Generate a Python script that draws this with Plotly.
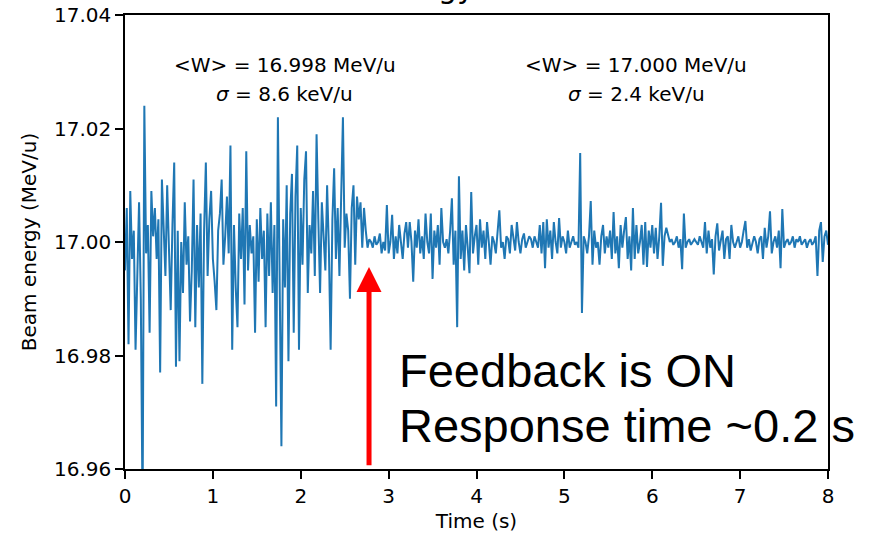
import plotly.graph_objects as go

# beam energy samples (MeV/u), one every 0.02 s from 0 to 8 s
beam_energy = [
    16.995, 17.006, 16.982, 17.009, 16.997, 17.002, 16.981, 16.996, 17.007, 16.990,
    16.952, 17.024, 16.998, 17.003, 16.984, 17.009, 17.001, 17.006, 16.997, 17.004,
    16.977, 17.011, 17.001, 16.994, 17.010, 16.998, 16.988, 17.003, 17.014, 16.978,
    17.002, 16.979, 17.000, 16.991, 17.007, 16.996, 17.001, 16.986, 16.995, 17.011,
    16.985, 17.003, 16.992, 17.005, 16.975, 17.002, 17.014, 16.994, 17.004, 17.009,
    16.997, 16.993, 16.988, 17.002, 17.005, 17.011, 16.996, 17.001, 17.008, 16.998,
    17.017, 16.981, 17.003, 16.992, 16.985, 17.005, 16.997, 17.006, 16.989, 17.016,
    16.995, 17.003, 16.998, 17.001, 16.984, 17.004, 16.993, 17.006, 16.997, 17.002,
    16.985, 17.005, 16.994, 17.007, 16.991, 17.003, 16.971, 17.022, 16.988, 16.964,
    17.004, 16.992, 17.010, 16.979, 17.005, 17.012, 16.984, 17.008, 17.017, 16.981,
    17.006, 16.996, 17.011, 17.016, 16.991, 17.003, 16.998, 17.009, 16.994, 17.019,
    17.004, 16.991, 17.007, 17.002, 16.995, 17.010, 16.999, 16.981, 17.004, 17.013,
    16.997, 17.006, 16.994, 17.008, 17.022, 16.999, 17.005, 17.002, 16.990, 17.006,
    17.010, 16.996, 17.008, 17.004, 17.007, 16.999, 17.006, 17.002, 16.9990, 17.0005,
    17.0000, 16.9990, 17.0010, 16.9995, 17.0000, 17.0015, 16.9980, 17.0000, 16.9985, 17.0065,
    16.9980, 17.0000, 17.0048, 16.9970, 17.0010, 16.9980, 17.0030, 17.0000, 16.9970, 17.0015,
    17.0035, 16.9990, 17.0035, 17.0000, 16.9930, 17.0020, 16.9990, 17.0040, 16.9980, 17.0010,
    16.9970, 17.0050, 17.0000, 16.9980, 17.0050, 16.9935, 17.0020, 16.9990, 17.0030, 16.9960,
    17.0060, 17.0000, 16.9990, 17.0005, 16.9980, 17.0020, 17.0077, 16.9960, 17.0020, 16.9850,
    17.0116, 16.9970, 17.0020, 16.9950, 17.0030, 16.9990, 16.9945, 17.0088, 16.9980, 17.0010,
    17.0030, 16.9960, 17.0040, 16.9990, 17.0020, 16.9970, 17.0035, 17.0000, 16.9960, 17.0010,
    17.0000, 16.9980, 17.0020, 17.0056, 16.9990, 17.0000, 16.9970, 17.0010, 17.0005, 16.9980,
    17.0030, 17.0010, 16.9985, 17.0035, 17.0000, 16.9980, 17.0005, 17.0015, 16.9990, 17.0000,
    17.0010, 17.0005, 16.9990, 17.0010, 17.0000, 16.9990, 17.0030, 16.9980, 17.0035, 16.9954,
    17.0040, 16.9990, 17.0020, 16.9970, 17.0035, 17.0000, 16.9980, 17.0042, 16.9990, 17.0010,
    17.0000, 16.9980, 17.0020, 16.9990, 17.0000, 17.0010, 16.9995, 17.0000, 16.9990, 17.0157,
    16.9875, 17.0010, 17.0000, 16.9980, 17.0010, 17.0072, 16.9960, 17.0020, 16.9990, 17.0000,
    16.9960, 17.0010, 17.0030, 16.9980, 17.0010, 16.9990, 17.0020, 16.9970, 17.0053, 16.9980,
    17.0010, 16.9954, 17.0030, 16.9990, 17.0020, 17.0044, 16.9970, 17.0010, 16.9950, 17.0060,
    16.9970, 17.0030, 16.9980, 17.0000, 17.0030, 16.9960, 17.0035, 16.9956, 17.0020, 16.9990,
    17.0030, 16.9980, 17.0025, 16.9970, 17.0010, 17.0069, 16.9958, 17.0010, 17.0025, 17.0010,
    17.0000, 17.0005, 16.9995, 17.0000, 17.0010, 16.9990, 17.0005, 16.9952, 17.0050, 16.9990,
    17.0000, 17.0005, 16.9995, 17.0000, 17.0005, 17.0000, 16.9995, 17.0010, 17.0000, 16.9990,
    17.0035, 16.9980, 17.0020, 16.9990, 17.0005, 16.9943, 17.0010, 17.0033, 16.9985, 17.0000,
    17.0020, 16.9970, 17.0005, 17.0010, 16.9970, 17.0030, 17.0000, 16.9990, 17.0000, 17.0010,
    16.9990, 17.0000, 17.0020, 17.0037, 16.9990, 17.0005, 16.9985, 17.0000, 17.0010, 17.0000,
    16.9980, 17.0005, 17.0010, 16.9970, 17.0025, 16.9990, 17.0010, 17.0054, 16.9980, 17.0000,
    17.0010, 16.9990, 17.0020, 16.9954, 17.0058, 16.9990, 17.0000, 17.0005, 16.9995, 17.0000,
    17.0010, 16.9990, 17.0005, 17.0000, 17.0010, 16.9995, 17.0000, 17.0005, 16.9990, 17.0000,
    17.0005, 16.9995, 17.0000, 17.0010, 16.9940, 17.0020, 17.0035, 16.9965, 17.0010, 17.0020,
    16.9995,
]
dt = 0.02
time_s = [round(i * dt, 2) for i in range(len(beam_energy))]

x_ticks = [0, 1, 2, 3, 4, 5, 6, 7, 8]
y_ticks = [16.96, 16.98, 17.00, 17.02, 17.04]
y_tick_text = ["16.96", "16.98", "17.00", "17.02", "17.04"]

fig = go.Figure()
fig.add_trace(go.Scatter(x=time_s, y=beam_energy, mode="lines",
                         line=dict(color="#1f77b4", width=2), showlegend=False))

# stats text
fig.add_annotation(x=1.82, y=17.0312, text="&lt;W&gt; = 16.998 MeV/u", showarrow=False)
fig.add_annotation(x=1.82, y=17.0261, text="<i>σ</i> = 8.6 keV/u", showarrow=False)
fig.add_annotation(x=5.82, y=17.0312, text="&lt;W&gt; = 17.000 MeV/u", showarrow=False)
fig.add_annotation(x=5.82, y=17.0261, text="<i>σ</i> = 2.4 keV/u", showarrow=False)

# feedback switched on
fig.add_annotation(x=2.777, y=16.9956, ax=2.777, ay=16.9604, axref="x", ayref="y",
                   text="", showarrow=True, arrowcolor="red", arrowwidth=5,
                   arrowhead=2, arrowsize=1, standoff=0, startstandoff=0)
fig.add_annotation(x=3.09, y=16.9774, text="Feedback is ON", showarrow=False,
                   xanchor="left", font=dict(family="Liberation Sans, Arial", size=47, color="black"))
fig.add_annotation(x=3.09, y=16.9676, text="Response time ~0.2 s", showarrow=False,
                   xanchor="left", font=dict(family="Liberation Sans, Arial", size=47, color="black"))

# title, mostly cut off above the frame
fig.add_annotation(x=4.0, y=1.018, xref="x", yref="paper", text="Beam energy",
                   showarrow=False, xanchor="right", yanchor="bottom", font=dict(size=30))

axis_style = dict(showline=True, linecolor="black", linewidth=1.5, mirror=True,
                  ticks="outside", ticklen=8, tickwidth=1.5, tickcolor="black",
                  showgrid=False, zeroline=False, tickfont=dict(size=20, color="black"))

fig.update_xaxes(range=[0, 8], tickvals=x_ticks, title=dict(text="Time (s)", font=dict(size=20)),
                 **axis_style)
fig.update_yaxes(range=[16.96, 17.04], tickvals=y_ticks, ticktext=y_tick_text,
                 title=dict(text="Beam energy (MeV/u)", font=dict(size=20), standoff=12),
                 **axis_style)

fig.update_layout(width=875, height=533,
                  margin=dict(l=125, r=47, t=15, b=64, autoexpand=False),
                  plot_bgcolor="white", paper_bgcolor="white",
                  font=dict(family="DejaVu Sans", size=20, color="black"))

fig.write_html("out.html", config={"displayModeBar": False},
               post_script="document.body.style.margin='0';")
